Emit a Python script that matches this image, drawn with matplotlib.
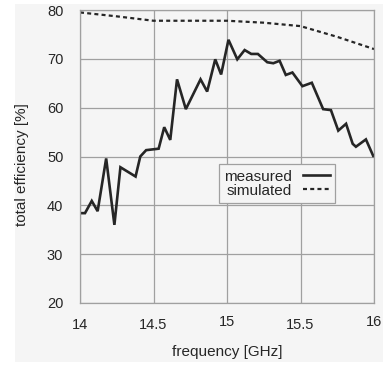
import matplotlib
matplotlib.use("Agg")
import matplotlib.pyplot as plt
from matplotlib.patches import Rectangle
from matplotlib.transforms import offset_copy

plt.rcParams['font.family'] = ['Liberation Sans', 'DejaVu Sans']

# measured total efficiency, vertices
freq_meas = [14.0, 14.034, 14.08, 14.12, 14.178, 14.234, 14.275, 14.378, 14.41,
             14.45, 14.535, 14.573, 14.614, 14.66, 14.72, 14.82, 14.865, 14.92,
             14.96, 15.01, 15.07, 15.12, 15.165, 15.21, 15.274, 15.315, 15.358,
             15.40, 15.445, 15.513, 15.577, 15.654, 15.707, 15.757, 15.81, 15.855,
             15.877, 15.945, 15.995, 16.0]
eff_meas = [38.4, 38.4, 40.9, 38.8, 49.6, 36.0, 47.8, 45.9, 50.0,
            51.3, 51.6, 56.0, 53.4, 65.8, 59.7, 65.8, 63.3, 69.9,
            66.8, 73.9, 69.9, 71.8, 71.0, 71.0, 69.3, 69.1, 69.6,
            66.7, 67.2, 64.4, 65.1, 59.7, 59.5, 55.3, 56.7, 52.6,
            52.0, 53.5, 50.1, 50.1]

# simulated total efficiency
freq_sim = [14.0, 14.25, 14.5, 14.75, 15.0, 15.25, 15.5, 15.75, 16.0]
eff_sim = [79.5, 78.7, 77.8, 77.8, 77.8, 77.4, 76.7, 74.5, 72.0]

xticks = [14, 14.5, 15, 15.5, 16]
xtick_labels = ['14', '14.5', '15', '15.5', '16']
yticks = [20, 30, 40, 50, 60, 70, 80]

bg = '#f5f5f5'
grid_col = '#a0a0a0'
ink = '#262626'

fig = plt.figure(figsize=(3.86, 3.66), dpi=100, facecolor='white')
fig.patches.append(Rectangle((15 / 386, 4 / 366), 368 / 386, 358 / 366,
                             transform=fig.transFigure, facecolor=bg,
                             edgecolor='none', zorder=-10))
ax = fig.add_axes([80 / 386, 63 / 366, 294 / 386, 293 / 366])
ax.set_facecolor(bg)

ax.plot(freq_meas, eff_meas, color=ink, lw=1.9, label='measured',
        solid_joinstyle='miter')
ax.plot(freq_sim, eff_sim, color=ink, lw=1.6, ls=(0, (1.8, 1.45)),
        label='simulated')

ax.set_xlim(14, 16)
ax.set_ylim(20, 80)
ax.set_xticks(xticks)
ax.set_xticklabels(xtick_labels)
ax.set_yticks(yticks)
ax.tick_params(length=0, labelsize=10.5, colors=ink)
ax.tick_params(axis='y', pad=12)
ax.tick_params(axis='x', pad=11)
ax.grid(True, color=grid_col, lw=0.9)
ax.set_axisbelow(True)
for s in ax.spines.values():
    s.set_color(grid_col)
    s.set_linewidth(0.9)

# "15" and "16" sit a little higher in the reference
for lab in ax.get_xticklabels():
    if lab.get_text() in ('15', '16'):
        lab.set_transform(offset_copy(lab.get_transform(), fig=fig, y=3, units='dots'))

ax.set_xlabel('frequency [GHz]', fontsize=11, color=ink)
ax.xaxis.set_label_coords(0.5, -0.145)
ax.set_ylabel('total efficiency [%]', fontsize=11, color=ink)
ax.yaxis.set_label_coords(-0.173, 0.474)

leg = ax.legend(loc='lower right', bbox_to_anchor=(0.867, 0.341), borderaxespad=0,
                markerfirst=False, fontsize=11, handlelength=1.75,
                handletextpad=0.7, labelspacing=0.0, borderpad=0.35,
                fancybox=False, framealpha=1)
leg.get_frame().set_facecolor(bg)
leg.get_frame().set_edgecolor(grid_col)
leg.get_frame().set_linewidth(0.9)
for t in leg.get_texts():
    t.set_color(ink)

fig.savefig('out.png', dpi=100, facecolor='white')
